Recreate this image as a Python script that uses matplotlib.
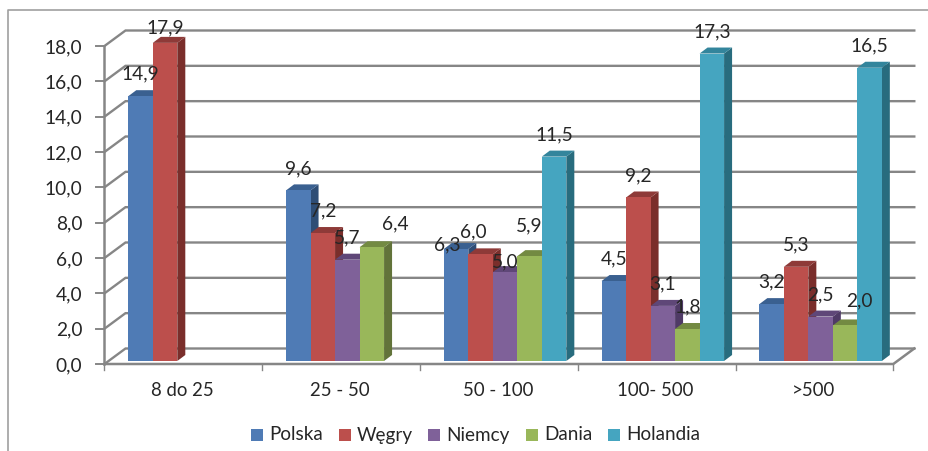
# Excel-style pseudo 3D clustered bars, drawn on a flat axes. The depth faces and
# the back wall are offset from the front faces in data units.
import matplotlib
matplotlib.use("Agg")
import matplotlib.pyplot as plt
from matplotlib.lines import Line2D
from matplotlib.patches import Polygon, Rectangle

plt.rcParams["font.family"] = ["Lato", "DejaVu Sans"]

categories = ["8 do 25", "25 - 50", "50 - 100", "100- 500", ">500"]
series_names = ["Polska", "Węgry", "Niemcy", "Dania", "Holandia"]
polska = [14.9, 9.6, 6.3, 4.5, 3.2]
wegry = [17.9, 7.2, 6.0, 9.2, 5.3]
niemcy = [None, 5.7, 5.0, 3.1, 2.5]
dania = [None, 6.4, 5.9, 1.8, 2.0]
holandia = [None, None, 11.5, 17.3, 16.5]
series = [polska, wegry, niemcy, dania, holandia]

face = ["#4F7BB5", "#BC4F4C", "#7F6199", "#99B75A", "#45A5C0"]
top = ["#3A6090", "#8E3A38", "#5F4778", "#738A42", "#33859C"]
side = ["#2E4D75", "#7A2E2B", "#4F3A66", "#62733A", "#286C7E"]
grid_col = "#868686"
text_col = "#262626"

# labels Excel moved away from the default spot: (series, category) -> pixels
label_shift = {(0, 2): (-9, 4), (1, 0): (0, 15), (1, 2): (-7, 22), (2, 2): (0, 10),
               (3, 1): (24, 23), (3, 2): (0, 30), (3, 4): (14, 25)}

W, H = 929, 451
fig = plt.figure(figsize=(W / 100, H / 100), dpi=100)
# front plane of the plot: x 104.5-893.3 px, y 46-364 px
ax = fig.add_axes([104.5 / W, 1 - 364 / H, 788.8 / W, 318 / H])
ax.set_xlim(0, 5)
ax.set_ylim(0, 18)
ax.axis("off")

px = 5 / 788.8    # one pixel in x data units
py = 18 / 318     # one pixel in y data units
wall_dx, wall_dy = 21 * px, 15.5 * py
bar_w = 24.5 * px
bar_dx, bar_dy = 8 * px, 6 * py
base = 3 * py
bar_scale = 1.006   # bars stand on a floor slightly behind the front edge
group_start = 23.8 * px

# back wall gridlines with the slanted part on the left wall
for v in range(0, 20, 2):
    ax.plot([0, wall_dx, 5 + wall_dx], [v, v + wall_dy, v + wall_dy], color=grid_col,
            lw=1.7, clip_on=False, zorder=1, solid_joinstyle="miter")
    ax.plot([-8 * px, 0], [v, v], color=grid_col, lw=1.4, clip_on=False, zorder=1)
    ax.text(-22 * px, v - 1.5 * py, f"{v:.1f}".replace(".", ","), ha="right", va="center",
            fontsize=13.8, color=text_col, clip_on=False)

# front axes and the floor edge
ax.plot([0, 0], [0, 18], color=grid_col, lw=1.8, clip_on=False, zorder=1)
ax.plot([0, 5, 5 + wall_dx], [0, 0, wall_dy], color=grid_col, lw=1.8, clip_on=False, zorder=1)
for i in range(6):
    ax.plot([i, i], [0, -5.5 * py], color=grid_col, lw=1.0, clip_on=False, zorder=1)
for i, c in enumerate(categories):
    ax.text(i + 0.5 - 1 * px, -27 * py, c, ha="center", va="center", fontsize=13.4,
            color=text_col, clip_on=False)

# bars, left to right so each one covers the side of the previous
for s, vals in enumerate(series):
    for i, v in enumerate(vals):
        if v is None:
            continue
        x0 = i + group_start + s * bar_w
        y1 = base + v * bar_scale
        ax.add_patch(Polygon([(x0 + bar_w, base), (x0 + bar_w + bar_dx, base + bar_dy),
                              (x0 + bar_w + bar_dx, y1 + bar_dy), (x0 + bar_w, y1)],
                             fc=side[s], ec="none", clip_on=False, zorder=3 + s))
        ax.add_patch(Polygon([(x0, y1), (x0 + bar_dx, y1 + bar_dy),
                              (x0 + bar_w + bar_dx, y1 + bar_dy), (x0 + bar_w, y1)],
                             fc=top[s], ec="none", clip_on=False, zorder=3 + s))
        ax.bar(x0, y1 - base, bottom=base, width=bar_w, align="edge", color=face[s],
               clip_on=False, zorder=3 + s)

# value labels sit above all bars
for s, vals in enumerate(series):
    for i, v in enumerate(vals):
        if v is None:
            continue
        sx, sy = label_shift.get((s, i), (0, 22))
        x0 = i + group_start + s * bar_w
        ax.text(x0 + bar_w / 2 + sx * px, base + v * bar_scale + sy * py,
                f"{v:.1f}".replace(".", ","), ha="center", va="center", fontsize=13.8,
                color=text_col, clip_on=False, zorder=20)

# legend, laid out by hand in figure pixels
legend_x = [251, 339, 428, 526, 608]
for name, col, lx in zip(series_names, face, legend_x):
    fig.add_artist(Rectangle((lx / W, 1 - 441 / H), 12 / W, 12 / H, fc=col, ec="none",
                             transform=fig.transFigure))
    fig.text((lx + 18) / W, 1 - 435 / H, name, ha="left", va="center", fontsize=13.6,
             color=text_col)

# outer chart frame: only top and left edges are inside the crop
fig.add_artist(Line2D([8 / W, 8 / W, 1], [0, 1 - 10 / H, 1 - 10 / H], color="#A0A0A0", lw=1.2,
                      transform=fig.transFigure))

fig.savefig("out.png", dpi=100)
